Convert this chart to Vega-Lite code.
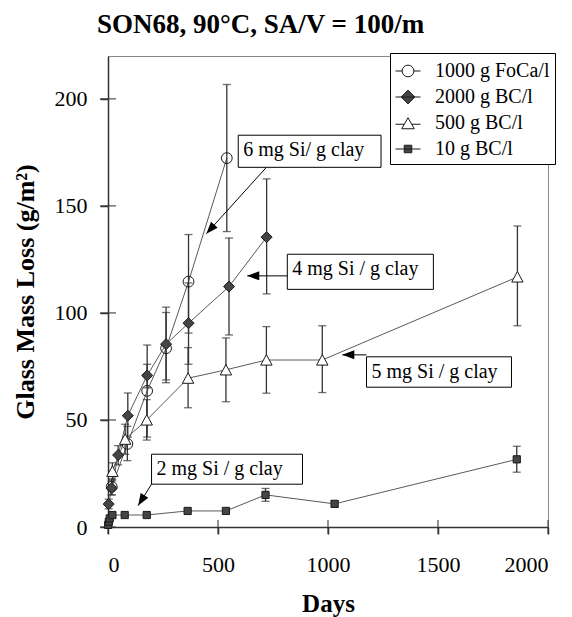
{
  "$schema": "https://vega.github.io/schema/vega-lite/v6.json",
  "width": 440,
  "height": 471,
  "autosize": {"type": "none"},
  "padding": {"left": 108, "top": 56, "right": 24, "bottom": 90},
  "title": {"text": "SON68, 90°C, SA/V = 100/m", "anchor": "start", "frame": "group", "dx": -11, "offset": -7, "font": "Liberation Serif", "fontSize": 27, "fontWeight": "bold", "color": "black", "baseline": "alphabetic"},
  "config": {"view": {"stroke": "#888888", "strokeWidth": 1}, "font": "Liberation Serif"},
  "resolve": {"scale": {"shape": "independent", "fill": "independent"}, "legend": {"shape": "independent", "fill": "independent"}},
  "datasets": {
    "series": [
      {"series": "1000 g FoCa/l", "days": 17, "mass": 18.8, "lo": 15, "hi": 22.5},
      {"series": "1000 g FoCa/l", "days": 88, "mass": 38.8, "lo": 31, "hi": 47},
      {"series": "1000 g FoCa/l", "days": 178, "mass": 63.6, "lo": 42, "hi": 85},
      {"series": "1000 g FoCa/l", "days": 264, "mass": 83.5, "lo": 67.4, "hi": 100.2},
      {"series": "1000 g FoCa/l", "days": 366, "mass": 114.6, "lo": 90.6, "hi": 136.6},
      {"series": "1000 g FoCa/l", "days": 540, "mass": 172.3, "lo": 138, "hi": 206.7},
      {"series": "2000 g BC/l", "days": 3, "mass": 10.7, "lo": 8.5, "hi": 13},
      {"series": "2000 g BC/l", "days": 17, "mass": 18.2, "lo": 15, "hi": 21.5},
      {"series": "2000 g BC/l", "days": 46, "mass": 33.6, "lo": 29, "hi": 38},
      {"series": "2000 g BC/l", "days": 90, "mass": 52, "lo": 42, "hi": 62.6},
      {"series": "2000 g BC/l", "days": 178, "mass": 70.8, "lo": 65, "hi": 76},
      {"series": "2000 g BC/l", "days": 264, "mass": 85.4, "lo": 68.7, "hi": 102.7},
      {"series": "2000 g BC/l", "days": 366, "mass": 95.2, "lo": 76, "hi": 114},
      {"series": "2000 g BC/l", "days": 550, "mass": 112.3, "lo": 89.7, "hi": 135},
      {"series": "2000 g BC/l", "days": 721, "mass": 135.4, "lo": 108.9, "hi": 162.6},
      {"series": "500 g BC/l", "days": 20, "mass": 26, "lo": 22, "hi": 30},
      {"series": "500 g BC/l", "days": 78, "mass": 41, "lo": 34, "hi": 48},
      {"series": "500 g BC/l", "days": 176, "mass": 50, "lo": 40.6, "hi": 59.5},
      {"series": "500 g BC/l", "days": 364, "mass": 69.5, "lo": 55.7, "hi": 83.8},
      {"series": "500 g BC/l", "days": 536, "mass": 73.4, "lo": 58.5, "hi": 88.3},
      {"series": "500 g BC/l", "days": 720, "mass": 78, "lo": 62.5, "hi": 93.6},
      {"series": "500 g BC/l", "days": 974, "mass": 78, "lo": 62.8, "hi": 94},
      {"series": "500 g BC/l", "days": 1861, "mass": 116.8, "lo": 94, "hi": 140.6},
      {"series": "10 g BC/l", "days": 1, "mass": 1},
      {"series": "10 g BC/l", "days": 4, "mass": 2.5},
      {"series": "10 g BC/l", "days": 8, "mass": 4},
      {"series": "10 g BC/l", "days": 20, "mass": 5.6},
      {"series": "10 g BC/l", "days": 76, "mass": 5.6},
      {"series": "10 g BC/l", "days": 176, "mass": 5.6},
      {"series": "10 g BC/l", "days": 362, "mass": 7.5},
      {"series": "10 g BC/l", "days": 536, "mass": 7.5},
      {"series": "10 g BC/l", "days": 716, "mass": 15, "lo": 12, "hi": 18},
      {"series": "10 g BC/l", "days": 1030, "mass": 10.8, "lo": 9.3, "hi": 12.3},
      {"series": "10 g BC/l", "days": 1858, "mass": 31.6, "lo": 25.6, "hi": 37.7}
    ],
    "notes": [
      {"label": "6 mg Si/ g clay", "x1": 592, "x2": 1241, "y1": 183, "y2": 168, "ax": 720, "ay": 168, "tx": 447, "ty": 137},
      {"label": "4 mg Si / g clay", "x1": 815, "x2": 1479, "y1": 127.4, "y2": 111, "ax": 815, "ay": 117.3, "tx": 633, "ty": 117.3},
      {"label": "5 mg Si / g clay", "x1": 1175, "x2": 1834, "y1": 79.5, "y2": 65.3, "ax": 1175, "ay": 80.4, "tx": 1065, "ty": 80.4},
      {"label": "2 mg Si / g clay", "x1": 198, "x2": 884, "y1": 34, "y2": 20, "ax": 198, "ay": 20, "tx": 137, "ty": 10}
    ],
    "yticks": [{"v": 0}, {"v": 50}, {"v": 100}, {"v": 150}, {"v": 200}],
    "xticks": [{"v": 0}, {"v": 500}, {"v": 1000}, {"v": 1500}, {"v": 2000}]
  },
  "layer": [
    {
      "data": {"name": "series"},
      "mark": {"type": "line", "stroke": "#5a5a5a", "strokeWidth": 1},
      "encoding": {
        "x": {"field": "days", "type": "quantitative", "scale": {"domain": [0, 2000], "nice": false},
          "axis": {"title": "Days", "values": [0, 500, 1000, 1500, 2000], "format": "d", "grid": false, "domainColor": "#333333", "domainWidth": 1.5, "tickColor": "#333333", "tickWidth": 1.5, "tickSize": 7, "labelPadding": 20, "labelFont": "Liberation Serif", "labelFontSize": 22, "labelColor": "black", "titleFont": "Liberation Serif", "titleFontSize": 25, "titleFontWeight": "bold", "titleColor": "black", "titlePadding": 16}},
        "y": {"field": "mass", "type": "quantitative", "scale": {"domain": [0, 220], "nice": false},
          "axis": {"title": "Glass Mass Loss (g/m²)", "values": [0, 50, 100, 150, 200], "grid": false, "domainColor": "#333333", "domainWidth": 1.5, "tickColor": "#333333", "tickWidth": 1.5, "tickSize": 8, "labelPadding": 13, "labelFont": "Liberation Serif", "labelFontSize": 22, "labelColor": "black", "titleFont": "Liberation Serif", "titleFontSize": 26, "titleFontWeight": "bold", "titleColor": "black", "titlePadding": 16}},
        "detail": {"field": "series"}
      }
    },
    {
      "data": {"name": "yticks"},
      "mark": {"type": "tick", "orient": "horizontal", "size": 16, "thickness": 1.5, "color": "#333333"},
      "encoding": {
        "x": {"datum": 0, "type": "quantitative"},
        "y": {"field": "v", "type": "quantitative"}
      }
    },
    {
      "data": {"name": "xticks"},
      "mark": {"type": "tick", "orient": "vertical", "size": 14, "thickness": 1.5, "color": "#333333"},
      "encoding": {
        "x": {"field": "v", "type": "quantitative"},
        "y": {"datum": 0, "type": "quantitative"}
      }
    },
    {
      "data": {"name": "series"},
      "transform": [{"filter": "isValid(datum.lo)"}],
      "mark": {"type": "rule", "stroke": "#333333", "strokeWidth": 1.3},
      "encoding": {
        "x": {"field": "days", "type": "quantitative"},
        "y": {"field": "lo", "type": "quantitative"},
        "y2": {"field": "hi"}
      }
    },
    {
      "data": {"name": "series"},
      "transform": [{"filter": "isValid(datum.lo)"}],
      "mark": {"type": "tick", "orient": "horizontal", "size": 8, "thickness": 1.3, "color": "#333333"},
      "encoding": {
        "x": {"field": "days", "type": "quantitative"},
        "y": {"field": "lo", "type": "quantitative"}
      }
    },
    {
      "data": {"name": "series"},
      "transform": [{"filter": "isValid(datum.hi)"}],
      "mark": {"type": "tick", "orient": "horizontal", "size": 8, "thickness": 1.3, "color": "#333333"},
      "encoding": {
        "x": {"field": "days", "type": "quantitative"},
        "y": {"field": "hi", "type": "quantitative"}
      }
    },
    {
      "data": {"name": "series"},
      "transform": [{"filter": "false"}],
      "mark": {"type": "point", "size": 625, "stroke": "#1a1a1a", "strokeWidth": 1, "opacity": 1},
      "encoding": {
        "x": {"field": "days", "type": "quantitative"},
        "y": {"field": "mass", "type": "quantitative"},
        "shape": {"field": "series", "type": "nominal",
          "scale": {"domain": ["1000 g FoCa/l", "2000 g BC/l", "500 g BC/l", "10 g BC/l"],
            "range": ["M-1,0H-0.47M0.47,0H1M0.47,0A0.47,0.47,0,1,1,-0.47,0A0.47,0.47,0,1,1,0.47,0Z", "M-1,0H1M0,-0.55L0.55,0L0,0.55L-0.55,0Z", "M-1,0.1H-0.3M0.3,0.1H1M0,-0.42L0.5,0.46L-0.5,0.46Z", "M-1,0H1M-0.3,-0.3H0.3V0.3H-0.3Z"]},
          "legend": {"title": null, "orient": "none", "legendX": 282, "legendY": -3, "padding": 5, "strokeColor": "black", "fillColor": "white", "labelFont": "Liberation Serif", "labelFontSize": 20, "labelColor": "black", "labelOffset": 14, "symbolSize": 625, "rowPadding": 3, "symbolStrokeWidth": 1}},
        "fill": {"field": "series", "type": "nominal",
          "scale": {"domain": ["1000 g FoCa/l", "2000 g BC/l", "500 g BC/l", "10 g BC/l"], "range": ["transparent", "#454545", "white", "#454545"]},
          "legend": {"title": null, "orient": "none", "legendX": 282, "legendY": -3, "padding": 5, "strokeColor": "black", "fillColor": "white", "labelFont": "Liberation Serif", "labelFontSize": 20, "labelColor": "black", "labelOffset": 14, "symbolSize": 625, "rowPadding": 3, "symbolStrokeWidth": 1}}
      }
    },
    {
      "data": {"name": "series"},
      "mark": {"type": "point", "size": 144, "stroke": "#1a1a1a", "strokeWidth": 1, "opacity": 1},
      "encoding": {
        "x": {"field": "days", "type": "quantitative"},
        "y": {"field": "mass", "type": "quantitative"},
        "shape": {"field": "series", "type": "nominal",
          "scale": {"domain": ["1000 g FoCa/l", "2000 g BC/l", "500 g BC/l", "10 g BC/l"],
            "range": ["M0.9,0A0.9,0.9,0,1,1,-0.9,0A0.9,0.9,0,1,1,0.9,0Z", "M-0.92,0L0,-0.92L0.92,0L0,0.92Z", "M0,-0.9L0.95,0.85L-0.95,0.85Z", "M-0.6,-0.6H0.6V0.6H-0.6Z"]},
          "legend": null},
        "fill": {"field": "series", "type": "nominal",
          "scale": {"domain": ["1000 g FoCa/l", "2000 g BC/l", "500 g BC/l", "10 g BC/l"], "range": ["transparent", "#454545", "white", "#454545"]},
          "legend": null}
      }
    },
    {
      "data": {"name": "notes"},
      "mark": {"type": "rect", "fill": "white", "stroke": "black", "strokeWidth": 1},
      "encoding": {
        "x": {"field": "x1", "type": "quantitative"},
        "x2": {"field": "x2"},
        "y": {"field": "y1", "type": "quantitative"},
        "y2": {"field": "y2"}
      }
    },
    {
      "data": {"name": "notes"},
      "mark": {"type": "text", "align": "left", "baseline": "alphabetic", "dx": 5, "dy": 21, "font": "Liberation Serif", "fontSize": 20, "color": "black"},
      "encoding": {
        "x": {"field": "x1", "type": "quantitative"},
        "y": {"field": "y1", "type": "quantitative"},
        "text": {"field": "label"}
      }
    },
    {
      "data": {"name": "notes"},
      "mark": {"type": "rule", "stroke": "black", "strokeWidth": 1},
      "encoding": {
        "x": {"field": "ax", "type": "quantitative"},
        "y": {"field": "ay", "type": "quantitative"},
        "x2": {"field": "tx"},
        "y2": {"field": "ty"}
      }
    },
    {
      "data": {"name": "notes"},
      "transform": [{"filter": {"field": "label", "oneOf": ["4 mg Si / g clay", "5 mg Si / g clay"]}}],
      "mark": {"type": "point", "shape": "M0,0L0.375,1L-0.375,1Z", "size": 576, "filled": true, "color": "black", "opacity": 1, "angle": 270},
      "encoding": {
        "x": {"field": "tx", "type": "quantitative"},
        "y": {"field": "ty", "type": "quantitative"}
      }
    },
    {
      "data": {"name": "notes"},
      "transform": [{"filter": {"field": "label", "equal": "6 mg Si/ g clay"}}],
      "mark": {"type": "point", "shape": "M0,0L0.375,1L-0.375,1Z", "size": 576, "filled": true, "color": "black", "opacity": 1, "angle": 222},
      "encoding": {
        "x": {"field": "tx", "type": "quantitative"},
        "y": {"field": "ty", "type": "quantitative"}
      }
    },
    {
      "data": {"name": "notes"},
      "transform": [{"filter": {"field": "label", "equal": "2 mg Si / g clay"}}],
      "mark": {"type": "point", "shape": "M0,0L0.375,1L-0.375,1Z", "size": 576, "filled": true, "color": "black", "opacity": 1, "angle": 212},
      "encoding": {
        "x": {"field": "tx", "type": "quantitative"},
        "y": {"field": "ty", "type": "quantitative"}
      }
    }
  ]
}
